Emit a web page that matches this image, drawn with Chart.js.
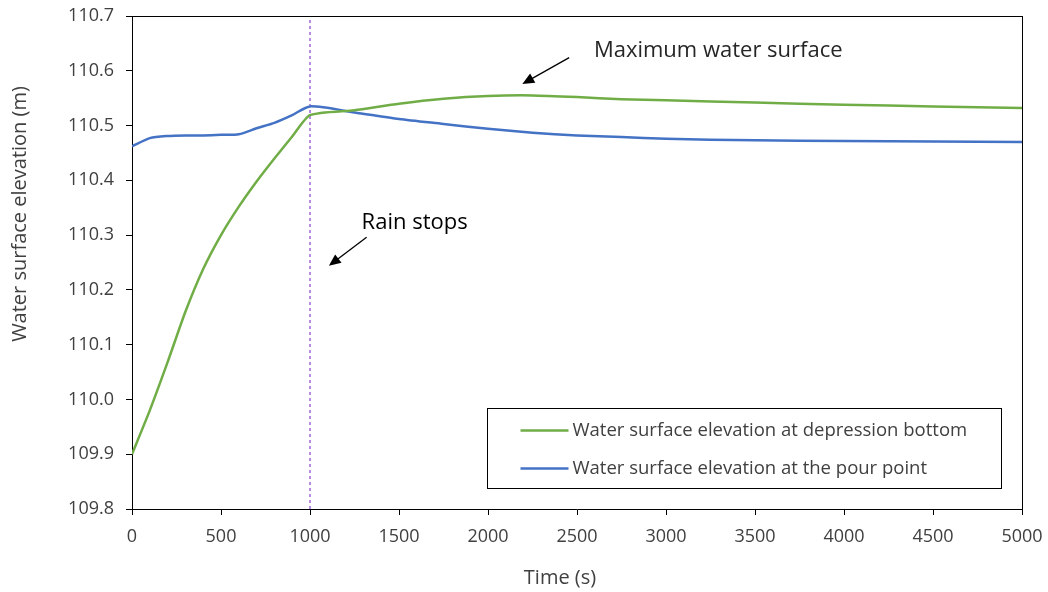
<!DOCTYPE html>
<html>
<head>
<meta charset="utf-8">
<script src="https://cdn.jsdelivr.net/npm/chart.js@4/dist/chart.umd.min.js"></script>
<style>
  body { margin: 0; background: #fff; }
  #wrap { width: 1048px; height: 592px; }
</style>
</head>
<body>
<div id="wrap"><canvas id="levels"></canvas></div>
<script>
const time = [0, 100, 200, 300, 400, 500, 600, 700, 800, 900, 1000,
	1250, 1500, 1750, 2000, 2250, 2500, 2750, 3000, 3500, 4000, 4500, 5000];
const depressionBottom = [109.900, 109.980, 110.068, 110.160, 110.238, 110.300, 110.352, 110.398, 110.440, 110.480, 110.519,
	110.528, 110.540, 110.549, 110.554, 110.555, 110.552, 110.548, 110.546, 110.542, 110.538, 110.535, 110.532];
const pourPoint = [110.462, 110.477, 110.481, 110.482, 110.482, 110.483, 110.484, 110.495, 110.505, 110.519, 110.535,
	110.524, 110.512, 110.503, 110.494, 110.487, 110.482, 110.479, 110.476, 110.473, 110.472, 110.471, 110.470];
const seriesNames = [
	"Water surface elevation at depression bottom",
	"Water surface elevation at the pour point"
];
const rainStopTime = 1000;
const xTicks = [0, 500, 1000, 1500, 2000, 2500, 3000, 3500, 4000, 4500, 5000];
const yTicks = [109.8, 109.9, 110.0, 110.1, 110.2, 110.3, 110.4, 110.5, 110.6, 110.7];
const xTitle = "Time (s)";
const yTitle = "Water surface elevation (m)";

const font = "'Open Sans', 'DejaVu Sans', sans-serif";
const ink = "#404040";

// notes with arrows, in data units: text anchor, arrow tail, arrow head
const notes = [
	{ text: "Maximum water surface", at: [2595, 110.637], from: [2456, 110.624], to: [2193, 110.576] },
	{ text: "Rain stops", at: [1290, 110.323], from: [1318, 110.296], to: [1106, 110.244] }
];

function arrow(ctx, x1, y1, x2, y2) {
	const a = Math.atan2(y2 - y1, x2 - x1);
	const len = 13, half = 0.42;
	ctx.beginPath();
	ctx.moveTo(x1, y1);
	ctx.lineTo(x2 - Math.cos(a) * len * 0.8, y2 - Math.sin(a) * len * 0.8);
	ctx.lineWidth = 1.3;
	ctx.strokeStyle = "#000";
	ctx.stroke();
	ctx.beginPath();
	ctx.moveTo(x2, y2);
	ctx.lineTo(x2 - len * Math.cos(a - half), y2 - len * Math.sin(a - half));
	ctx.lineTo(x2 - len * Math.cos(a + half), y2 - len * Math.sin(a + half));
	ctx.closePath();
	ctx.fillStyle = "#000";
	ctx.fill();
}

const extras = {
	id: "extras",
	afterDraw(chart) {
		const { ctx, chartArea: area, scales: { x, y } } = chart;
		ctx.save();
		// frame on top and right
		ctx.strokeStyle = "#000";
		ctx.lineWidth = 1;
		ctx.beginPath();
		ctx.moveTo(area.left, Math.round(area.top) + 0.5);
		ctx.lineTo(area.right, Math.round(area.top) + 0.5);
		ctx.moveTo(Math.round(area.right) + 0.5, area.top);
		ctx.lineTo(Math.round(area.right) + 0.5, area.bottom);
		ctx.stroke();

		// axis titles (Excel places them a bit off centre)
		ctx.fillStyle = ink;
		ctx.font = "20px " + font;
		ctx.textAlign = "center";
		ctx.textBaseline = "middle";
		ctx.fillText(xTitle, 560, 578);
		ctx.save();
		ctx.translate(20, 214);
		ctx.rotate(-Math.PI / 2);
		ctx.fillText(yTitle, 0, 0);
		ctx.restore();

		// notes
		ctx.textAlign = "left";
		ctx.font = "22px " + font;
		ctx.fillStyle = "#262626";
		notes.forEach(n => {
			ctx.fillText(n.text, x.getPixelForValue(n.at[0]), y.getPixelForValue(n.at[1]));
			arrow(ctx, x.getPixelForValue(n.from[0]), y.getPixelForValue(n.from[1]),
				x.getPixelForValue(n.to[0]), y.getPixelForValue(n.to[1]));
		});

		// legend box
		const bx = 487.5, by = 408.5, bw = 514, bh = 80;
		ctx.fillStyle = "#fff";
		ctx.fillRect(bx, by, bw, bh);
		ctx.strokeStyle = "#000";
		ctx.lineWidth = 1;
		ctx.strokeRect(bx, by, bw, bh);
		ctx.font = "18.5px " + font;
		ctx.fillStyle = ink;
		chart.data.datasets.slice(0, 2).forEach((ds, i) => {
			const ly = by + 22 + i * 38;
			ctx.beginPath();
			ctx.moveTo(bx + 33, ly);
			ctx.lineTo(bx + 81, ly);
			ctx.strokeStyle = ds.borderColor;
			ctx.lineWidth = 2.5;
			ctx.stroke();
			ctx.fillText(ds.label, bx + 85, ly);
		});
		ctx.restore();
	}
};

const config = {
	type: "line",
	data: {
		datasets: [
			{
				label: seriesNames[0],
				data: time.map((t, i) => ({ x: t, y: depressionBottom[i] })),
				borderColor: "#70AD47",
				borderWidth: 2.5,
				pointRadius: 0,
				tension: 0.2
			},
			{
				label: seriesNames[1],
				data: time.map((t, i) => ({ x: t, y: pourPoint[i] })),
				borderColor: "#4472C4",
				borderWidth: 2.5,
				pointRadius: 0,
				tension: 0.25
			},
			{
				label: "rain stops",
				data: [{ x: rainStopTime, y: yTicks[0] }, { x: rainStopTime, y: yTicks[yTicks.length - 1] }],
				borderColor: "#8A3FCC",
				borderWidth: 1.2,
				borderDash: [3, 3],
				pointRadius: 0
			}
		]
	},
	options: {
		responsive: false,
		animation: false,
		layout: { padding: { top: 16, right: 26, left: 0, bottom: 0 } },
		scales: {
			x: {
				type: "linear",
				min: xTicks[0],
				max: xTicks[xTicks.length - 1],
				afterBuildTicks: axis => (axis.ticks = xTicks.map(value => ({ value }))),
				afterFit: axis => {
					axis.height = 83;
					axis.paddingLeft = 0;
					axis.paddingRight = 0;
				},
				grid: { drawOnChartArea: false, color: "#000", tickLength: 6 },
				border: { color: "#000" },
				ticks: { color: ink, font: { family: font, size: 18 }, padding: 11, maxRotation: 0, callback: v => String(v) }
			},
			y: {
				type: "linear",
				min: yTicks[0],
				max: yTicks[yTicks.length - 1],
				afterBuildTicks: axis => (axis.ticks = yTicks.map(value => ({ value }))),
				afterFit: axis => {
					axis.width = 132;
					axis.paddingTop = 0;
					axis.paddingBottom = 0;
				},
				grid: { drawOnChartArea: false, color: "#000", tickLength: 6 },
				border: { color: "#000" },
				ticks: { color: ink, font: { family: font, size: 18 }, padding: 12, callback: v => v.toFixed(1) }
			}
		},
		plugins: {
			legend: { display: false },
			tooltip: { enabled: false }
		}
	},
	plugins: [extras]
};

const canvas = document.getElementById("levels");
canvas.width = 1048;
canvas.height = 592;
new Chart(canvas, config);
</script>
</body>
</html>
